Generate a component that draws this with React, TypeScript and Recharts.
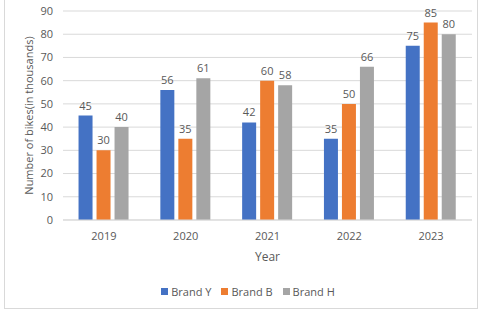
import React from "react";
import { BarChart, Bar, XAxis, YAxis, CartesianGrid, Legend, LabelList } from "recharts";

const years = ["2019", "2020", "2021", "2022", "2023"];
const brandY = [45, 56, 42, 35, 75];
const brandB = [30, 35, 60, 50, 85];
const brandH = [40, 61, 58, 66, 80];
const yTicks = [0, 10, 20, 30, 40, 50, 60, 70, 80, 90];
const seriesNames = ["Brand Y", "Brand B", "Brand H"];
const seriesColors = ["#4472C4", "#ED7D31", "#A5A5A5"];

const data = years.map((year, i) => ({ year, y: brandY[i], b: brandB[i], h: brandH[i] }));

const FONT = "Open Sans, Liberation Sans, sans-serif";
const TXT = "#595959";

const LegendContent = () => (
  <div style={{ display: "flex", justifyContent: "center", gap: 10, fontSize: 11, fontFamily: FONT, color: TXT }}>
    {seriesNames.map((n, i) => (
      <div key={n} style={{ display: "flex", alignItems: "center", gap: 3 }}>
        <span style={{ display: "inline-block", width: 7, height: 7, background: seriesColors[i] }} />
        <span>{n}</span>
      </div>
    ))}
  </div>
);

export default function App() {
  return (
    <div style={{ position: "fixed", left: 0, top: 0, width: 482, height: 317, background: "#fff", fontFamily: FONT }}>
      <div style={{ position: "absolute", left: 4, top: -1, width: 474, height: 310, border: "1px solid #d9d9d9", boxSizing: "border-box" }} />
      <BarChart
        width={482}
        height={317}
        data={data}
        margin={{ top: 11, right: 10, left: 0, bottom: 0 }}
        barCategoryGap="19%"
        barGap={4}
      >
        <CartesianGrid vertical={false} stroke="#d9d9d9" />
        <XAxis
          dataKey="year"
          height={45}
          tickLine={false}
          axisLine={{ stroke: "#d9d9d9" }}
          tick={{ fill: TXT, fontSize: 11, fontFamily: FONT }}
          tickMargin={6}
          label={{ value: "Year", position: "insideBottom", offset: 4, fill: TXT, fontSize: 12, fontFamily: FONT }}
        />
        <YAxis
          width={63}
          domain={[0, 90]}
          ticks={yTicks}
          interval={0}
          tickLine={false}
          axisLine={false}
          tick={{ fill: TXT, fontSize: 11, fontFamily: FONT }}
          tickMargin={4}
          label={{
            value: "Number of bikes(in thousands)",
            angle: -90,
            position: "insideLeft",
            offset: 29,
            style: { textAnchor: "middle", fill: TXT, fontSize: 11, fontFamily: FONT },
          }}
        />
        <Legend
          verticalAlign="bottom"
          align="center"
          height={52}
          wrapperStyle={{ boxSizing: "border-box", paddingTop: 19, paddingLeft: 24 }}
          content={<LegendContent />}
        />
        <Bar dataKey="y" name="Brand Y" fill={seriesColors[0]} isAnimationActive={false}>
          <LabelList dataKey="y" position="top" offset={6} fill={TXT} fontSize={11} fontFamily={FONT} />
        </Bar>
        <Bar dataKey="b" name="Brand B" fill={seriesColors[1]} isAnimationActive={false}>
          <LabelList dataKey="b" position="top" offset={6} fill={TXT} fontSize={11} fontFamily={FONT} />
        </Bar>
        <Bar dataKey="h" name="Brand H" fill={seriesColors[2]} isAnimationActive={false}>
          <LabelList dataKey="h" position="top" offset={6} fill={TXT} fontSize={11} fontFamily={FONT} />
        </Bar>
      </BarChart>
    </div>
  );
}
